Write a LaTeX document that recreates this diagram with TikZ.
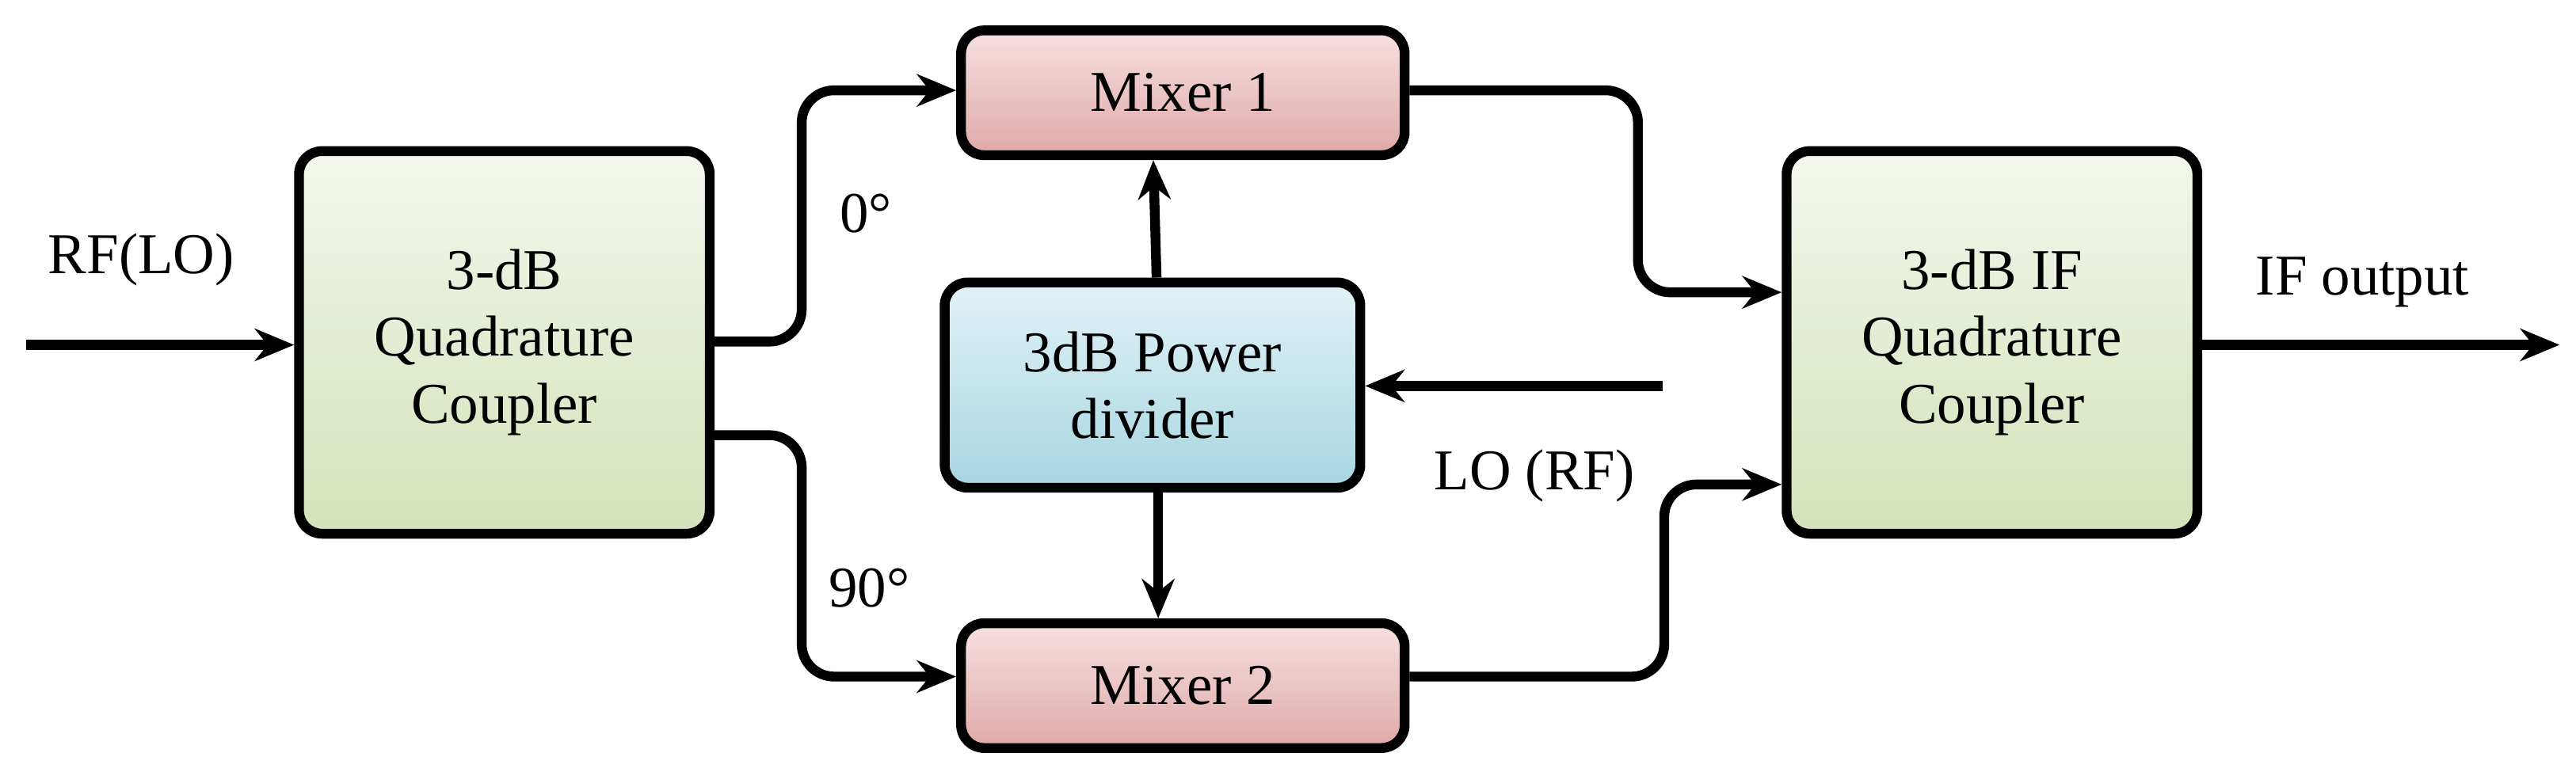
\documentclass[tikz,border=0pt]{standalone}
\usepackage{fontspec}
\setmainfont{Liberation Serif}
\usetikzlibrary{arrows.meta}
\definecolor{gtop}{HTML}{F3F7EC}\definecolor{gbot}{HTML}{D3E2BA}
\definecolor{rtop}{HTML}{F7E0E0}\definecolor{rbot}{HTML}{DFA9A8}
\definecolor{btop}{HTML}{E2F2F7}\definecolor{bbot}{HTML}{A7D6E1}
\begin{document}
\begin{tikzpicture}[x=0.05cm,y=-0.05cm,
  box/.style={draw=black,line width=8.5pt,rounded corners=20pt,inner sep=0pt,align=center,font=\fontsize{50}{58}\selectfont},
  grn/.style={box,top color=gtop,bottom color=gbot,minimum width=250*0.05cm,minimum height=233*0.05cm},
  red/.style={box,top color=rtop,bottom color=rbot,minimum width=270*0.05cm,minimum height=76*0.05cm},
  blu/.style={box,top color=btop,bottom color=bbot,minimum width=253*0.05cm,minimum height=125*0.05cm},
  ln/.style={line width=8.5pt,rounded corners=28pt},
  ar/.style={ln,-{Stealth[length=34pt,width=28pt]}},
  lbl/.style={font=\fontsize{50}{58}\selectfont}]
\useasboundingbox (0,0) rectangle (1568,470);
\node[grn] (qc) at (307,208.5) {3-dB\\Quadrature\\Coupler};
\node[grn] (ic) at (1212.5,208.5) {3-dB IF\\Quadrature\\Coupler};
\node[red] (m1) at (720,56.5) {Mixer 1};
\node[red] (m2) at (720,417.5) {Mixer 2};
\node[blu] (pd) at (701.5,234.5) {3dB Power\\divider};
\coordinate (rfin) at (16,210);
\coordinate (loin) at (1012,235);
\coordinate (ifout) at (1558,210);
\draw[ar] (rfin) -- (rfin -| qc.west);
\node[lbl] at (86,158) {RF(LO)};
\draw[ar] (qc.east |- 0,208) -- (488,208) -- (488,55) -- (m1.west |- 0,55);
\draw[ar] (qc.east |- 0,265) -- (488,265) -- (488,412) -- (m2.west |- 0,412);
\node[lbl] at (527,130) {0°};
\node[lbl] at (529,358) {90°};
\draw[ar] (pd.north -| 704,0) -- (m1.south -| 702,0);
\draw[ar] (pd.south -| 705,0) -- (m2.north -| 705,0);
\draw[ar] (loin) -- (loin -| pd.east);
\node[lbl] at (934,290) {LO (RF)};
\draw[ar] (m1.east |- 0,55) -- (997,55) -- (997,178) -- (ic.west |- 0,178);
\draw[ar] (m2.east |- 0,412) -- (1013,412) -- (1013,295) -- (ic.west |- 0,295);
\draw[ar] (ic.east |- ifout) -- (ifout);
\node[lbl] at (1438,172) {IF output};
\end{tikzpicture}
\end{document}
